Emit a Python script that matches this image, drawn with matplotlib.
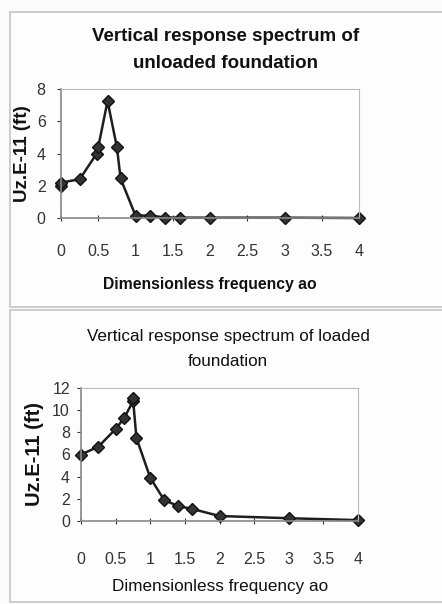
import matplotlib
matplotlib.use("Agg")
import matplotlib.pyplot as plt
from matplotlib.patches import Rectangle

plt.rcParams['font.family'] = ['Liberation Sans', 'DejaVu Sans']

# unloaded foundation
a0_unloaded = [0, 0, 0.25, 0.48, 0.5, 0.625, 0.75, 0.8, 1.0, 1.2, 1.4, 1.6, 2.0, 3.0, 4.0]
uz_unloaded = [2.0, 2.2, 2.4, 4.0, 4.4, 7.25, 4.4, 2.45, 0.15, 0.15, 0.03, 0.02, 0.02, 0.02, 0.0]

# loaded foundation
a0_loaded = [0, 0.25, 0.5, 0.625, 0.75, 0.75, 0.8, 1.0, 1.2, 1.4, 1.6, 2.0, 3.0, 4.0]
uz_loaded = [6.0, 6.7, 8.3, 9.3, 10.8, 11.1, 7.5, 3.9, 1.9, 1.35, 1.1, 0.45, 0.25, 0.08]

xticks = [0, 0.5, 1, 1.5, 2, 2.5, 3, 3.5, 4]
xticklabels = ['0', '0.5', '1', '1.5', '2', '2.5', '3', '3.5', '4']

W, H = 442, 604
fig = plt.figure(figsize=(W / 100, H / 100), dpi=100)
fig.patch.set_facecolor('#fbfbfb')


def px(x0, y0, x1, y1):
    return [x0 / W, 1 - y1 / H, (x1 - x0) / W, (y1 - y0) / H]


# panel frames
for y0, y1 in [(12, 307), (310, 602)]:
    fig.add_artist(Rectangle((10 / W, 1 - y1 / H), (W + 5 - 10) / W, (y1 - y0) / H,
                             transform=fig.transFigure, facecolor='#fdfdfd',
                             edgecolor='#c4c4c4', lw=1.2, zorder=-10))


def panel(box, x, y, ymax, ystep, title, title_w, title_fs, title_x, title_y,
          ylab_x, ylab_fs, xpad, ypad):
    ax = fig.add_axes(px(*box))
    ax.plot(x, y, color='#1e1e1e', lw=1.8, marker='D', ms=6,
            mfc='#333333', mec='#111111', clip_on=False)
    ax.set_xlim(0, 4)
    ax.set_ylim(0, ymax)
    ax.set_xticks(xticks)
    ax.set_xticklabels(xticklabels)
    ax.set_yticks(range(0, ymax + 1, ystep))
    ax.tick_params(labelsize=11.5, colors='#333333', length=3, width=0.8,
                   direction='out')
    ax.tick_params(axis='y', pad=ypad)
    ax.tick_params(axis='x', direction='inout', length=5, pad=xpad)
    for s in ['top', 'right']:
        ax.spines[s].set_color('#bbbbbb')
    for s in ['left', 'bottom']:
        ax.spines[s].set_color('#888888')
        ax.spines[s].set_linewidth(1.2)
    ax.set_facecolor('#ffffff')
    fig.text(title_x / W, 1 - title_y / H, title, ha='center', va='center',
             fontsize=title_fs, fontweight=title_w, linespacing=1.75, color='#111111')
    fig.text(ylab_x / W, 1 - (box[1] + box[3]) / 2 / H, 'Uz.E-11 (ft)', rotation=90,
             ha='center', va='center', fontsize=ylab_fs, fontweight='bold',
             color='#111111')
    return ax


panel((61, 89, 359, 218), a0_unloaded, uz_unloaded, 8, 2,
      'Vertical response spectrum of\nunloaded foundation', 'bold', 13.5, 226, 50,
      23, 13.5, 16, 8)
fig.text(210 / W, 1 - 285 / H, 'Dimensionless frequency ao', ha='center', va='center',
         fontsize=11.3, fontweight='bold', color='#111111')

panel((81, 388, 358, 521), a0_loaded, uz_loaded, 12, 2,
      'Vertical response spectrum of loaded\nfoundation', 'normal', 12.3, 228, 349,
      35, 14.5, 20, 5)
fig.text(220 / W, 1 - 587 / H, 'Dimensionless frequency ao', ha='center', va='center',
         fontsize=12.3, color='#111111')

fig.savefig('out.png', dpi=100, facecolor=fig.get_facecolor())
